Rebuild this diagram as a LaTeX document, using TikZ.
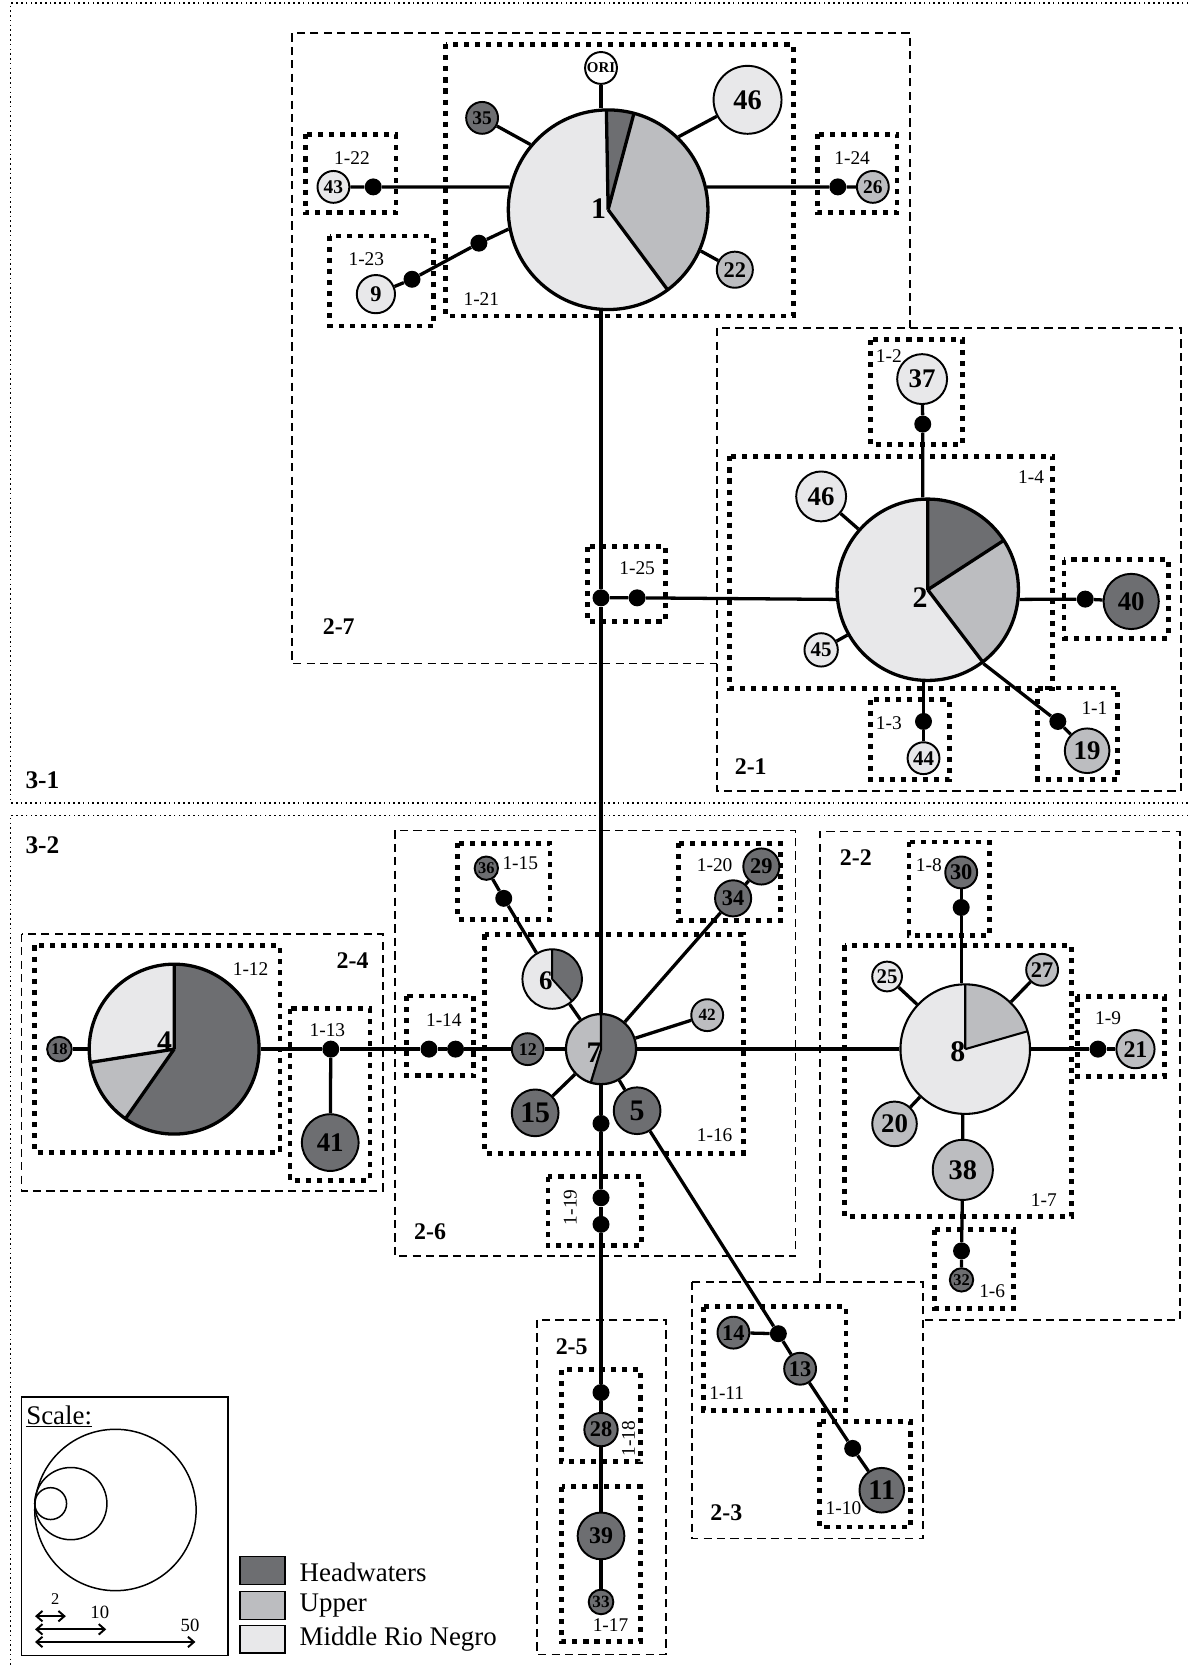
\documentclass[tikz,border=0pt]{standalone}
\usepackage{fontspec}
\setmainfont{Liberation Serif}
\usetikzlibrary{arrows.meta}
\definecolor{hwgray}{HTML}{6D6E71}
\definecolor{upgray}{HTML}{BCBDC0}
\definecolor{mdgray}{HTML}{E8E8EA}

\begin{document}
\begin{tikzpicture}[
    x=0.25mm, y=0.25mm,
    >={Straight Barb[length=4pt, width=7pt]},
    hap/.style={circle, draw=black, line width=1.3pt, inner sep=0pt, text=black},
    hw/.style={hap, fill=hwgray},
    up/.style={hap, fill=upgray},
    md/.style={hap, fill=mdgray},
    pie/.style={circle, draw=black, line width=2.2pt, inner sep=0pt},
    mv/.style={circle, fill=black, inner sep=0pt, minimum size=4mm},
    nf/.style={font=\fontsize{#1}{#1}\selectfont\bfseries},
    link/.style={line width=2.2pt},
    lvone/.style={line width=3.2pt, dash pattern=on 3.4pt off 4pt},
    lvtwo/.style={line width=1.1pt, dash pattern=on 5.5pt off 3.5pt},
    lvthree/.style={line width=1.1pt, dash pattern=on 1.1pt off 2.1pt},
    boxlbl/.style={font=\fontsize{13}{13}\selectfont},
    grplbl/.style={font=\fontsize{16}{16}\selectfont\bfseries},
  ]
  \useasboundingbox (0,0) rectangle (1119,-1568);

  % ══════════════════════════════════════════════════════
  % Nesting level 3 (fine dotted)
  % ══════════════════════════════════════════════════════
  \draw[lvthree] (1119,-3) -- (10,-3) -- (10,-756) -- (1119,-756);
  \draw[lvthree] (1119,-768) -- (10,-768) -- (10,-1568);
  \node[grplbl, font=\fontsize{17}{17}\selectfont\bfseries] (tl31) at (40,-735) {3-1};
  \node[grplbl, font=\fontsize{17}{17}\selectfont\bfseries] (tl32) at (40,-796) {3-2};

  % ══════════════════════════════════════════════════════
  % Nesting level 2 (dashed)
  % ══════════════════════════════════════════════════════
  \draw[lvtwo] (857,-309) -- (857,-31) -- (275,-31) -- (275,-625) -- (675,-625);
  \draw[lvtwo] (675,-309) rectangle (1112,-745);
  \draw[lvtwo] (372,-782) rectangle (749,-1183);
  \draw[lvtwo] (20.4,-879.4) rectangle (360.4,-1121.8);
  \draw[lvtwo] (772,-1207) -- (772,-783) -- (1111,-783) -- (1111,-1243) -- (869,-1243);
  \draw[lvtwo] (651.5,-1207) rectangle (869,-1449);
  \draw[lvtwo] (505.5,-1243) rectangle (627,-1558);

  \node[grplbl] (gl27) at (319,-590) {2-7};
  \node[grplbl] (gl21) at (707,-722) {2-1};
  \node[grplbl] (gl26) at (405,-1160) {2-6};
  \node[grplbl] (gl24) at (332,-905) {2-4};
  \node[grplbl] (gl22) at (806,-807.5) {2-2};
  \node[grplbl] (gl23) at (684,-1425) {2-3};
  \node[grplbl] (gl25) at (538.4,-1268.4) {2-5};

  % ══════════════════════════════════════════════════════
  % Nesting level 1 (heavy dotted)
  % ══════════════════════════════════════════════════════
  \foreach \xa/\ya/\xb/\yb in {419.6/41.7/747/297.6, 287.6/126.5/373/200.3,
      310.5/222.3/408/307, 770/126.5/844.7/200.3, 553/515/627/585,
      819.7/320/906.7/418.8, 687/429.8/991.5/648.7, 1001.9/527.1/1100.4/601,
      819.7/659/894.1/734.4, 977.4/648/1052.7/734.4, 431/794/518/866,
      639/794/735/867, 456.5/880/700/1086, 383/938/446/1013,
      32.3/890.4/263.7/1085, 273/950/348.5/1111.7, 516/1108/604/1173,
      856/793/932/881, 795.6/890.4/1009/1145.6, 1014.5/938.4/1096.6/1013.8,
      880.4/1158.2/954.8/1232, 662.4/1230.7/796.8/1328, 771.4/1339/857.7/1438,
      529/1290/603/1376.7, 529/1400/603/1546}{
    \draw[lvone] (\xa,-\ya) rectangle (\xb,-\yb);
  }

  \foreach \x/\y/\txt/\nm in {331.5/148.5/1-22/22, 345/244.3/1-23/23,
      453.3/282/1-21/21, 802.5/148.5/1-24/24, 600/535/1-25/25, 837/335/1-2/2,
      971/449.6/1-4/4, 837/681/1-3/3, 1030.7/666.9/1-1/1, 490/812.8/1-15/15,
      673/815/1-20/20, 673/1069.3/1-16/16, 418/961/1-14/14, 236/913/1-12/12,
      308.3/970.4/1-13/13, 874.7/814.4/1-8/8, 983/1130/1-7/7,
      1043.6/958.8/1-9/9, 934.4/1215.7/1-6/6, 684.4/1311.7/1-11/11,
      794.3/1420.6/1-10/10, 575/1530.5/1-17/17}{
    \node[boxlbl] (lb\nm) at (\x,-\y) {\txt};
  }
  \node[boxlbl, rotate=90] (lb19) at (537,-1137) {1-19};
  \node[boxlbl, rotate=90] (lb18) at (592,-1355) {1-18};

  % ══════════════════════════════════════════════════════
  % Pie haplotypes
  % ══════════════════════════════════════════════════════
  % haplotype 1
  \coordinate (c1) at (572.7,-197.5);
  \fill[mdgray] (c1) circle[radius=94];
  \fill[upgray] (c1) -- ++(-53.4:94) arc[start angle=-53.4, end angle=75, radius=94] -- cycle;
  \fill[hwgray] (c1) -- ++(75:94) arc[start angle=75, end angle=91, radius=94] -- cycle;
  \draw[line width=2.2pt] (c1) -- ++(91:94) (c1) -- ++(75:94) (c1) -- ++(-53.4:94);
  \node[pie, minimum size=47mm] (n1) at (c1) {};
  \node[nf=20] (t1) at (563.6,-196.2) {1};

  % haplotype 2
  \coordinate (c2) at (873.7,-555.4);
  \fill[mdgray] (c2) circle[radius=85.4];
  \fill[upgray] (c2) -- ++(-52.7:85.4) arc[start angle=-52.7, end angle=33, radius=85.4] -- cycle;
  \fill[hwgray] (c2) -- ++(33:85.4) arc[start angle=33, end angle=90, radius=85.4] -- cycle;
  \draw[line width=2.2pt] (c2) -- ++(90:85.4) (c2) -- ++(33:85.4) (c2) -- ++(-52.7:85.4);
  \node[pie, minimum size=42.7mm] (n2) at (c2) {};
  \node[nf=20] (t2) at (866.5,-563) {2};

  % haplotype 4
  \coordinate (c4) at (164,-988);
  \fill[mdgray] (c4) circle[radius=80];
  \fill[hwgray] (c4) -- ++(-125:80) arc[start angle=-125, end angle=90, radius=80] -- cycle;
  \fill[upgray] (c4) -- ++(189:80) arc[start angle=189, end angle=235, radius=80] -- cycle;
  \draw[line width=2.2pt] (c4) -- ++(90:80) (c4) -- ++(189:80) (c4) -- ++(235:80);
  \node[pie, minimum size=40mm] (n4) at (c4) {};
  \node[nf=20] (t4) at (155,-981) {4};

  % haplotype 7
  \coordinate (c7) at (566,-988);
  \fill[upgray] (c7) circle[radius=33];
  \fill[hwgray] (c7) -- ++(-107:33) arc[start angle=-107, end angle=90, radius=33] -- cycle;
  \draw[line width=1.5pt] (c7) -- ++(90:33) (c7) -- ++(-107:33);
  \node[pie, line width=1.5pt, minimum size=16.5mm] (n7) at (c7) {};
  \node[nf=20] (t7) at (559.5,-991) {7};

  % haplotype 6
  \coordinate (c6) at (520,-922);
  \fill[mdgray] (c6) circle[radius=28];
  \fill[hwgray] (c6) -- ++(-48:28) arc[start angle=-48, end angle=90, radius=28] -- cycle;
  \draw[line width=1.3pt] (c6) -- ++(90:28) (c6) -- ++(-48:28);
  \node[pie, line width=1.3pt, minimum size=14mm] (n6) at (c6) {};
  \node[nf=18] (t6) at (514,-923.7) {6};

  % haplotype 8
  \coordinate (c8) at (909,-988);
  \fill[mdgray] (c8) circle[radius=61];
  \fill[upgray] (c8) -- ++(16:61) arc[start angle=16, end angle=90, radius=61] -- cycle;
  \draw[line width=1.4pt] (c8) -- ++(90:61) (c8) -- ++(16:61);
  \node[pie, line width=1.4pt, minimum size=30.5mm] (n8) at (c8) {};
  \node[nf=20] (t8) at (902,-990) {8};

  % ══════════════════════════════════════════════════════
  % Single-colour haplotypes
  % ══════════════════════════════════════════════════════
  \node[hap, fill=white, minimum size=7.5mm, nf=10] (ori) at (566,-64) {ORI};
  \node[md, minimum size=16mm, nf=19] (n46a) at (704,-94) {46};
  \node[hw, minimum size=7.5mm, nf=13] (n35) at (454,-111) {35};
  \node[up, minimum size=8.5mm, nf=15] (n22) at (692,-254) {22};
  \node[md, minimum size=7.5mm, nf=13] (n43) at (314,-176) {43};
  \node[up, minimum size=7.5mm, nf=13] (n26) at (822,-176) {26};
  \node[md, minimum size=9mm, nf=15] (n9) at (354,-277) {9};

  \node[md, minimum size=11.75mm, nf=18] (n37) at (868.4,-357) {37};
  \node[md, minimum size=11.75mm, nf=18] (n46b) at (773.3,-467.5) {46};
  \node[md, minimum size=7.85mm, nf=14] (n45) at (773.3,-612) {45};
  \node[hw, minimum size=13mm, nf=18] (n40) at (1065.3,-566.4) {40};
  \node[md, minimum size=7.5mm, nf=14] (n44) at (869.7,-714) {44};
  \node[up, minimum size=10.5mm, nf=18] (n19) at (1023.8,-707) {19};

  \node[hw, minimum size=5.8mm, nf=11] (n18) at (56,-988) {18};
  \node[hw, minimum size=13.35mm, nf=18] (n41) at (311,-1076) {41};

  \node[hw, minimum size=7.5mm, nf=12] (n12) at (497,-988) {12};
  \node[hw, minimum size=11mm, nf=20] (n15) at (504,-1048) {15};
  \node[hw, minimum size=11mm, nf=20] (n5) at (600,-1046) {5};
  \node[up, minimum size=7.5mm, nf=11.5] (n42) at (666,-956) {42};
  \node[hw, minimum size=5.5mm, nf=11] (n36) at (458,-817.6) {36};
  \node[hw, minimum size=8.5mm, nf=15] (n34) at (690.4,-846) {34};
  \node[hw, minimum size=8.5mm, nf=15] (n29) at (717,-816) {29};

  \node[hw, minimum size=7.5mm, nf=15] (n30) at (905.2,-821.6) {30};
  \node[md, minimum size=7mm, nf=14] (n25) at (835.4,-919.6) {25};
  \node[up, minimum size=7.5mm, nf=15] (n27) at (981.4,-913.3) {27};
  \node[up, minimum size=10.5mm, nf=18] (n20) at (842.4,-1058.4) {20};
  \node[up, minimum size=14.15mm, nf=19] (n38) at (906.7,-1101.7) {38};
  \node[hw, minimum size=5.5mm, nf=11] (n32) at (905.5,-1205.3) {32};
  \node[up, minimum size=9mm, nf=16] (n21) at (1069.3,-988) {21};

  \node[hw, minimum size=7.5mm, nf=15] (n14) at (690.7,-1255) {14};
  \node[hw, minimum size=7.5mm, nf=15] (n13) at (753.5,-1289) {13};
  \node[hw, minimum size=10.5mm, nf=19] (n11) at (830.4,-1403.4) {11};

  \node[hw, minimum size=7.85mm, nf=15] (n28) at (566,-1346.3) {28};
  \node[hw, minimum size=11mm, nf=16] (n39) at (566,-1446.4) {39};
  \node[hw, minimum size=5.8mm, nf=11.5] (n33) at (566,-1508.6) {33};

  % ══════════════════════════════════════════════════════
  % Median vectors
  % ══════════════════════════════════════════════════════
  \node[mv] (m22) at (351.5,-176) {};
  \node[mv] (m24) at (789,-176) {};
  \node[mv] (m23a) at (388,-263) {};
  \node[mv] (m23b) at (451,-229) {};
  \node[mv] (m25a) at (566,-563) {};
  \node[mv] (m25b) at (600,-563) {};
  \node[mv] (m2) at (869,-399.4) {};
  \node[mv] (m4b) at (1022,-564.2) {};
  \node[mv] (m3) at (869.7,-679.4) {};
  \node[mv] (m1) at (996.2,-679.4) {};
  \node[mv] (m13) at (311.5,-988) {};
  \node[mv] (m14a) at (404,-988) {};
  \node[mv] (m14b) at (429,-988) {};
  \node[mv] (m15) at (474.4,-846) {};
  \node[mv] (m16) at (566,-1058) {};
  \node[mv] (m19a) at (566,-1128) {};
  \node[mv] (m19b) at (566,-1153) {};
  \node[mv] (m8) at (905.2,-854.6) {};
  \node[mv] (m6) at (905.5,-1178) {};
  \node[mv] (m9) at (1034,-988) {};
  \node[mv] (m11) at (733,-1256) {};
  \node[mv] (m10) at (803,-1364) {};
  \node[mv] (m18) at (566,-1311.4) {};

  % ══════════════════════════════════════════════════════
  % Connectors
  % ══════════════════════════════════════════════════════
  % around haplotype 1
  \draw[link] (ori) -- (ori |- n1.north);
  \draw[link] (n35) -- (n1.140);
  \draw[link] (n46a) -- (n1.46);
  \draw[link] (n22) -- (n1.336);
  \draw[link] (n43) -- (m22) -- (n1.167);
  \draw[link] (n1.13) -- (m24) -- (n26);
  \draw[link] (n9) -- (m23a) -- (m23b) -- (n1.191);

  % trunk 1 -- 7 and branch to 2
  \draw[link] (m25a |- n1.south) -- (m25a) -- (n7);
  \draw[link] (m25a) -- (m25b) -- (n2.186);

  % around haplotype 2
  \draw[link] (n37) -- (m2) -- (m2 |- n2.north);
  \draw[link] (n46b) -- (n2);
  \draw[link] (n45) -- (n2);
  \draw[link] (n2.354) -- (m4b) -- (n40);
  \draw[link] (m3 |- n2.south) -- (m3) -- (n44);
  \draw[link] (n2.-53) -- (m1) -- (n19);

  % central row
  \draw[link] (n18) -- (n4);
  \draw[link] (n4) -- (m13) -- (m14a) -- (m14b) -- (n12) -- (n7) -- (n8) -- (m9) -- (n21);
  \draw[link] (m13) -- (n41);

  % around haplotype 7
  \draw[link] (n7) -- (n6) -- (m15) -- (n36);
  \draw[link] (n7) -- (n34) -- (n29);
  \draw[link] (n7) -- (n42);
  \draw[link] (n7) -- (n15);
  \draw[link] (n7) -- (n5) -- (m11) -- (n13) -- (m10) -- (n11);
  \draw[link] (m11) -- (n14);
  \draw[link] (n7) -- (m16) -- (m19a) -- (m19b) -- (m18) -- (n28) -- (n39) -- (n33);

  % around haplotype 8
  \draw[link] (n25) -- (n8);
  \draw[link] (n27) -- (n8);
  \draw[link] (n20) -- (n8);
  \draw[link] (n30) -- (m8) -- (m8 |- n8.north);
  \draw[link] (n38 |- n8.south) -- (n38) -- (m6) -- (n32);

  % ══════════════════════════════════════════════════════
  % Scale box
  % ══════════════════════════════════════════════════════
  \draw[line width=1.1pt] (20.4,-1315.5) rectangle (215,-1559);
  \node[anchor=west, inner sep=0pt, font=\fontsize{18}{18}\selectfont] (scl) at (24.5,-1334) {\underline{Scale:}};
  \draw[line width=1pt] (47.7,-1416) circle[radius=15];
  \draw[line width=1pt] (66.7,-1416) circle[radius=34];
  \draw[line width=1pt] (108.7,-1422) circle[radius=76];
  \draw[<->, line width=1.3pt] (33,-1522) -- (62,-1522);
  \draw[<->, line width=1.3pt] (33,-1534.4) -- (100,-1534.4);
  \draw[<->, line width=1.3pt] (33,-1546.3) -- (184,-1546.3);
  \node[font=\fontsize{11}{11}\selectfont] (s2) at (52,-1505.5) {2};
  \node[font=\fontsize{12.5}{12.5}\selectfont] (s10) at (94,-1518) {10};
  \node[font=\fontsize{12.5}{12.5}\selectfont] (s50) at (179,-1530.6) {50};

  % ══════════════════════════════════════════════════════
  % Legend
  % ══════════════════════════════════════════════════════
  \draw[line width=1pt, fill=hwgray] (226,-1466) rectangle (268.4,-1492);
  \draw[line width=1pt, fill=upgray] (226,-1499) rectangle (268.4,-1525);
  \draw[line width=1pt, fill=mdgray] (226,-1531) rectangle (268.4,-1556.6);
  \node[anchor=west, inner sep=0pt, font=\fontsize{18}{18}\selectfont] (kHW) at (282,-1481) {Headwaters};
  \node[anchor=west, inner sep=0pt, font=\fontsize{18}{18}\selectfont] (kUP) at (282,-1512) {Upper};
  \node[anchor=west, inner sep=0pt, font=\fontsize{18}{18}\selectfont] (kMD) at (282,-1544) {Middle Rio Negro};

\end{tikzpicture}
\end{document}
